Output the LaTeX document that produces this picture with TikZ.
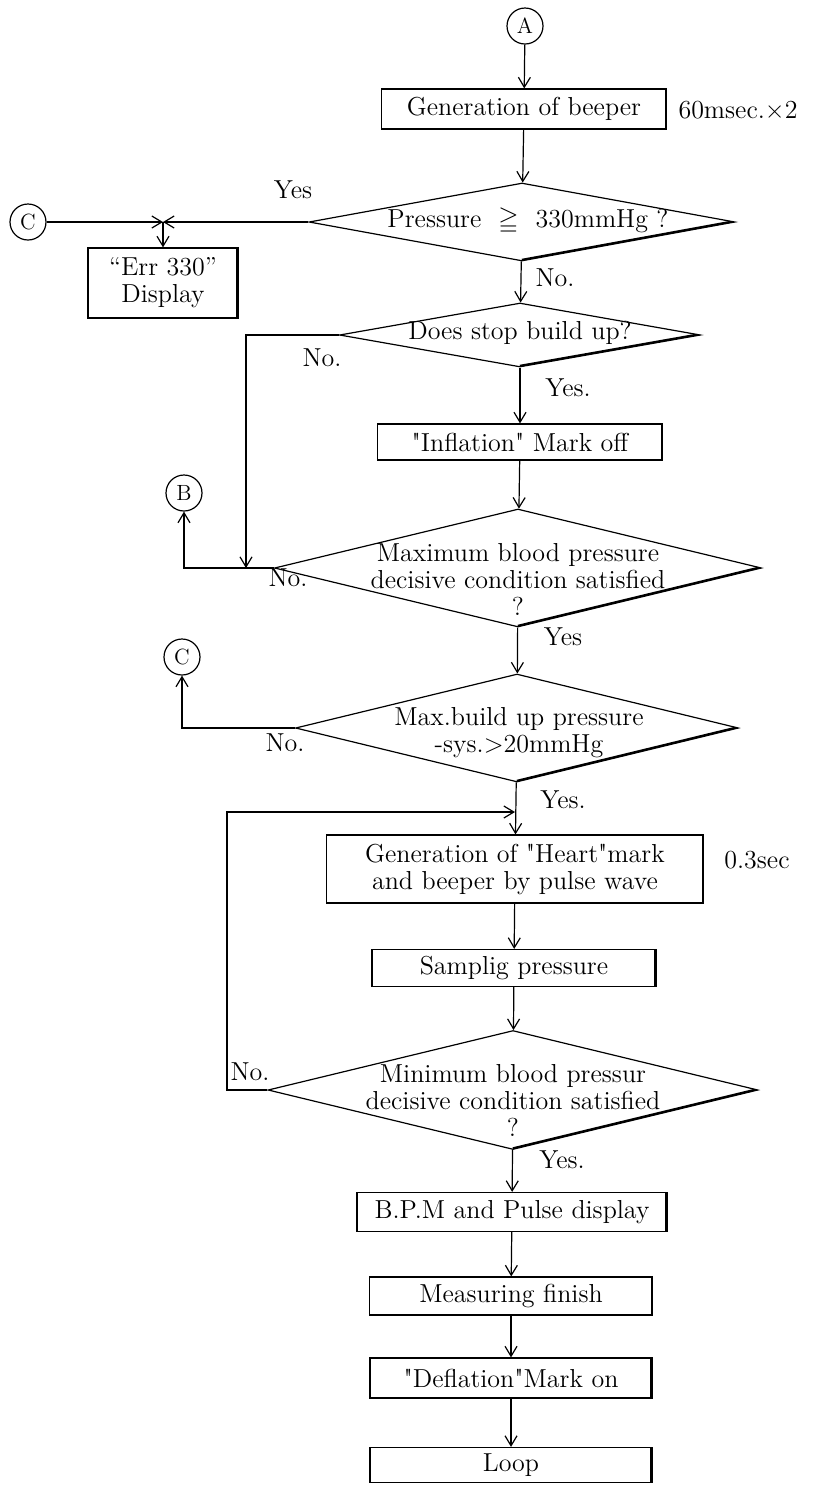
\documentclass[tikz,border=0pt]{standalone}
\usepackage{amssymb}
\usetikzlibrary{shapes.geometric,arrows.meta}

\tikzset{
  boite/.style 2 args={draw, rectangle, inner sep=0pt, align=center,
    minimum width=#1, minimum height=#2,
    path picture={\draw[line width=1.6pt] (path picture bounding box.north east) -- (path picture bounding box.south east);}},
  losange/.style 2 args={draw, diamond, inner sep=0pt,
    minimum width=#1, minimum height=#2,
    path picture={\draw[line width=2pt] (path picture bounding box.east) -- (path picture bounding box.south);}},
  rond/.style={draw, circle, minimum size=18pt, inner sep=0pt, font=\fontsize{11}{12}\selectfont},
  fleche/.style={-{Straight Barb[length=5pt,width=6pt]}},
  texte/.style={align=center},
}

\begin{document}
\begin{tikzpicture}[x=0.5pt, y=-0.5pt, line width=0.6pt, font=\fontsize{13}{13.5}\selectfont]
  \useasboundingbox (0,0) rectangle (821,1485);
  % les renvois
  \node[rond] (A) at (525,26) {A};
  \node[rond] (C1) at (28,222) {C};
  \node[rond] (B) at (184,493) {B};
  \node[rond] (C2) at (182,657) {C};
  % les boites
  \node[boite={142.5pt}{20pt}] (b1) at (524,109) {Generation of beeper};
  \node[boite={75pt}{35pt}] (err) at (163,283) {“Err 330”\\Display};
  \node[boite={142.5pt}{18pt}] (b2) at (520,442) {\textquotedbl Inflation\textquotedbl{} Mark off};
  \node[boite={188.5pt}{34pt}] (b3) at (515,869) {Generation of \textquotedbl Heart\textquotedbl mark\\and beeper by pulse wave};
  \node[boite={142pt}{18.5pt}] (b4) at (514,968) {Samplig pressure};
  \node[boite={155pt}{19.5pt}] (b5) at (512,1212) {B.P.M and Pulse display};
  \node[boite={141.5pt}{19pt}] (b6) at (511,1296) {Measuring finish};
  \node[boite={141pt}{20pt}] (b7) at (511,1378) {\textquotedbl Deflation\textquotedbl Mark on};
  \node[boite={141pt}{17.5pt}] (b8) at (511,1465) {Loop};
  % les losanges
  \node[losange={213pt}{39pt}] (d1) at (522,222) {};
  \node[texte] (t1) at (528,221) {Pressure \ $\geqq$\ \ 330mmHg ?};
  \node[losange={180.5pt}{32pt}] (d2) at (520,335) {};
  \node[texte] (t2) at (520,333) {Does stop build up?};
  \node[losange={243.5pt}{59pt}] (d3) at (518,568) {};
  \node[texte] (t3) at (518,579) {Maximum blood pressure\\decisive condition satisfied\\?};
  \node[losange={221.5pt}{54pt}] (d4) at (517,728) {};
  \node[texte] (t4) at (519,733) {Max.build up pressure\\-sys.>20mmHg};
  \node[losange={245pt}{59.5pt}] (d5) at (513,1090) {};
  \node[texte] (t5) at (513,1100) {Minimum blood pressur\\decisive condition satisfied\\?};
  % les temps
  \node (tps1) at (738,110) {60msec.×2};
  \node (tps2) at (757,860) {0.3sec};
  % oui / non
  \node (oui1) at (293,190) {Yes};
  \node (non1) at (555,278) {No.};
  \node (non2) at (322,358) {No.};
  \node (oui2) at (568,388) {Yes.};
  \node (non3) at (288,578) {No.};
  \node (oui3) at (563,637) {Yes};
  \node (non4) at (285,743) {No.};
  \node (oui4) at (563,800) {Yes.};
  \node (non5) at (250,1072) {No.};
  \node (oui5) at (562,1160) {Yes.};
  % le chemin principal
  \draw[fleche] (A) -- (b1);
  \draw[fleche] (b1) -- (d1);
  \draw[fleche] (d1) -- (d2);
  \draw[fleche] (d2) -- (b2);
  \draw[fleche] (b2) -- (d3);
  \draw[fleche] (d3) -- (d4);
  \draw[fleche] (d4) -- (b3);
  \draw[fleche] (b3) -- (b4);
  \draw[fleche] (b4) -- (d5);
  \draw[fleche] (d5) -- (b5);
  \draw[fleche] (b5) -- (b6);
  \draw[fleche] (b6) -- (b7);
  \draw[fleche] (b7) -- (b8);
  % les branches
  \coordinate (j1) at (163,222);
  \draw[fleche] (C1) -- (j1);
  \draw[fleche] (d1) -- (j1);
  \draw[fleche] (j1) -- (err);
  \coordinate (j3) at (246,568);
  \draw[fleche] (d2) -| (j3);
  \draw[fleche] (d3) -| (B);
  \draw[fleche] (d4) -| (C2);
  % la boucle
  \coordinate (k5) at (227,1090);
  \coordinate (j4) at (515,812);
  \draw[fleche] (d5) -- (k5) |- (j4);
\end{tikzpicture}
\end{document}
